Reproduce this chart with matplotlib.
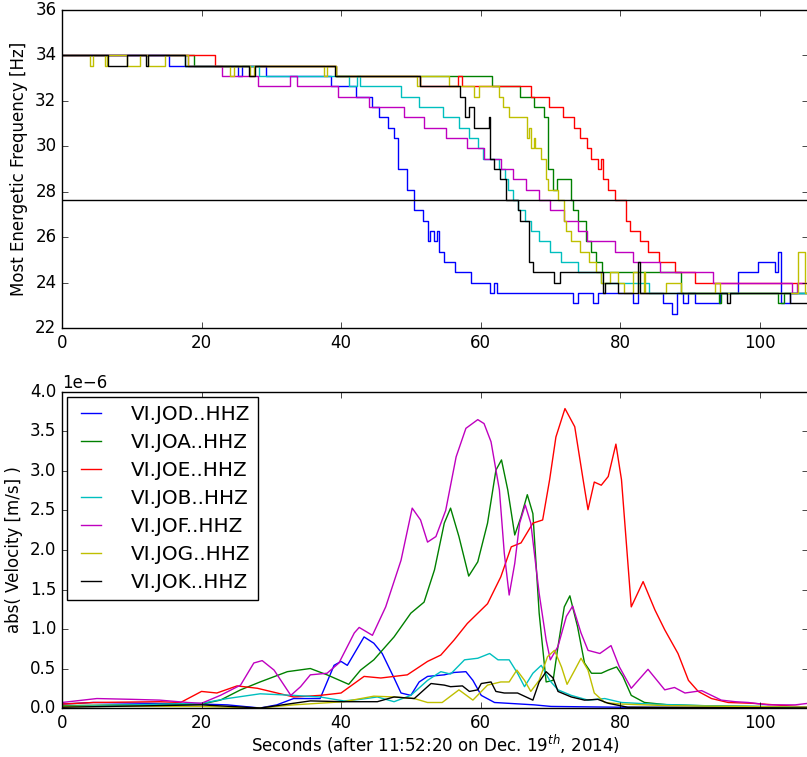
import matplotlib
matplotlib.use("Agg")
import matplotlib.pyplot as plt

plt.style.use("classic")
plt.rcParams["mathtext.fontset"] = "dejavusans"

stations = ["VI.JOD..HHZ", "VI.JOA..HHZ", "VI.JOE..HHZ", "VI.JOB..HHZ",
            "VI.JOF..HHZ", "VI.JOG..HHZ", "VI.JOK..HHZ"]
colors = ["b", "g", "r", "c", "m", "y", "k"]

# top panel: most energetic frequency (step changes), seconds / Hz
jod_t = [0, 15.3, 25.3, 25.8, 29.2, 38.5, 42.1, 44.5, 45.5, 46.7, 47.6, 48.2, 49.5, 50.4,
         51.7, 52.5, 52.8, 53.3, 53.7, 54.1, 54.7, 56.4, 58.6, 61.4, 61.9, 62.4, 73.2, 73.9,
         76.1, 76.8, 81.9, 82.6, 86.2, 87.4, 88.1, 89.0, 89.7, 90.8, 94.3, 96.9, 99.8, 102.2,
         102.7, 103.1, 104.4, 107]
jod_f = [34.00, 33.55, 33.09, 33.55, 33.09, 32.64, 32.18, 31.73, 31.27, 30.82, 30.36, 29.00,
         28.09, 27.18, 26.72, 25.81, 26.27, 25.81, 26.27, 25.36, 24.90, 24.45, 23.99, 23.54,
         23.99, 23.54, 23.08, 23.54, 23.08, 23.54, 23.08, 23.54, 23.08, 22.63, 23.54, 23.08,
         23.54, 23.08, 23.54, 24.45, 24.90, 24.45, 25.36, 23.08, 23.54, 23.54]

joa_t = [0, 18.9, 39.3, 61.7, 65.6, 67.6, 69.1, 69.6, 70.4, 71.0, 72.9, 73.2, 74.0, 75.1,
         75.9, 76.6, 77.4, 88.7, 94.2, 94.5, 102.7, 103.5, 107]
joa_f = [34.00, 33.55, 33.09, 32.64, 32.18, 31.73, 31.27, 29.00, 28.09, 28.54, 27.63, 27.18,
         26.72, 25.81, 25.36, 24.90, 24.45, 23.54, 23.08, 23.54, 23.08, 23.54, 23.54]

joe_t = [0, 22.0, 39.3, 51.3, 56.7, 57.4, 67.3, 69.8, 71.8, 73.4, 74.2, 75.2, 75.9, 76.9,
         77.2, 77.5, 78.3, 79.2, 80.9, 81.4, 82.9, 84.0, 85.6, 87.9, 90.7, 107]
joe_f = [34.00, 33.55, 33.09, 32.64, 33.09, 32.64, 32.18, 31.73, 31.27, 30.82, 30.36, 29.91,
         29.45, 29.00, 29.45, 28.54, 28.09, 27.63, 26.72, 26.27, 25.81, 25.36, 24.90, 24.45,
         23.99, 23.99]

job_t = [0, 17.6, 28.2, 41.1, 42.3, 42.7, 48.6, 51.2, 54.6, 56.9, 58.4, 59.6, 60.4, 62.6,
         63.5, 63.9, 64.6, 65.3, 66.3, 67.2, 68.4, 69.9, 71.6, 74.0, 77.2, 84.2, 107]
job_f = [34.00, 33.55, 33.09, 32.64, 33.09, 32.64, 32.18, 31.73, 31.27, 30.82, 30.36, 29.91,
         29.45, 29.00, 28.54, 28.09, 27.63, 27.18, 26.72, 26.27, 25.81, 25.36, 24.90, 24.45,
         23.99, 23.54, 23.54]

jof_t = [0, 18.1, 22.9, 28.1, 32.7, 33.7, 39.5, 44.0, 49.0, 51.9, 55.0, 58.1, 60.5, 62.9,
         64.6, 66.5, 68.4, 69.9, 72.0, 73.9, 75.3, 79.2, 81.9, 85.7, 93.3, 104.6, 105.3, 107]
jof_f = [34.00, 33.55, 33.09, 32.64, 33.09, 32.64, 32.18, 31.73, 31.27, 30.82, 30.36, 29.91,
         29.45, 29.00, 28.54, 28.09, 27.63, 27.18, 26.72, 26.27, 25.81, 25.36, 24.90, 24.45,
         23.99, 23.54, 23.99, 23.99]

jog_t = [0, 4.0, 4.4, 6.2, 6.5, 9.3, 11.2, 12.3, 14.8, 18.0, 24.1, 24.6, 27.0, 27.5, 37.5,
         38.0, 39.3, 50.9, 51.3, 55.5, 59.0, 59.8, 62.7, 63.2, 64.1, 66.7, 67.0, 67.3, 67.6,
         67.8, 68.7, 69.4, 69.6, 71.1, 71.9, 72.3, 73.0, 74.2, 75.6, 76.6, 77.3, 78.5, 79.7,
         80.5, 81.9, 82.6, 83.4, 83.6, 86.6, 88.7, 93.6, 94.3, 105.5, 106.5, 107]
jog_f = [34.00, 33.55, 34.00, 33.55, 34.00, 33.55, 34.00, 33.55, 34.00, 33.55,
         33.09, 33.55, 33.09, 33.55, 33.09, 33.55, 33.09, 32.64, 33.09, 32.64,
         32.18, 32.64, 32.18, 31.73, 31.27, 30.36, 30.82, 29.91, 30.36, 29.91,
         29.45, 28.54, 28.09, 27.63, 26.72, 26.27, 25.81, 25.36, 24.90, 24.45,
         23.99, 24.45, 23.99, 23.54, 24.45, 23.54, 24.45, 23.54, 23.99, 23.54,
         23.99, 23.54, 25.36, 23.54, 23.54]

jok_t = [0, 6.6, 9.3, 12.1, 12.3, 17.6, 26.8, 27.7, 39.1, 51.3, 57.0, 57.8, 58.3, 59.1,
         61.2, 61.4, 61.9, 62.8, 63.6, 65.3, 65.7, 67.0, 67.5, 70.5, 71.4, 77.6, 77.8, 79.7,
         82.6, 82.8, 95.3, 95.8, 104.4, 107]
jok_f = [34.00, 33.55, 34.00, 33.55, 34.00, 33.55, 33.09, 33.55, 33.09, 32.64, 32.18, 31.27,
         31.73, 30.82, 31.27, 29.45, 29.00, 28.54, 27.63, 27.18, 26.72, 24.90, 24.45, 23.99,
         24.45, 23.54, 23.99, 23.54, 24.90, 23.54, 23.08, 23.54, 23.08, 23.08]

threshold = 27.63

# bottom panel: velocity envelopes, units of 1e-6 m/s
vjod_t = [0, 4.5, 20, 23.7, 28.4, 30.8, 33.2, 37, 39, 40, 40.9, 43.3, 44.7, 45.9, 47.6, 48.6,
          50, 51.2, 52.4, 54.8, 56.2, 57.9, 58.9, 60.1, 62, 67.7, 70.1, 80, 107]
vjod_v = [0.05, 0.07, 0.05, 0.04, 0.0, 0.04, 0.12, 0.12, 0.54, 0.59, 0.54, 0.90, 0.82, 0.69,
          0.38, 0.19, 0.16, 0.33, 0.40, 0.42, 0.45, 0.46, 0.35, 0.16, 0.07, 0.04, 0.02, 0.01, 0.0]

vjoa_t = [0, 9.3, 20, 22.7, 25.6, 28.4, 32.3, 35.6, 38, 41.1, 42.8, 44.7, 47.6, 50, 51.9,
          53.4, 54.8, 55.7, 56.9, 58.3, 59.6, 61, 62.2, 63, 63.9, 64.9, 65.8, 66.7, 67.5, 68.4,
          69.4, 70.4, 71.1, 72, 72.8, 73.9, 74.9, 75.9, 77.3, 78.3, 79.5, 80.4, 81.6, 83.5,
          86.9, 91.7, 107]
vjoa_v = [0.03, 0.04, 0.05, 0.10, 0.23, 0.33, 0.46, 0.50, 0.42, 0.30, 0.48, 0.61, 0.90, 1.20,
          1.34, 1.75, 2.34, 2.53, 2.17, 1.67, 1.85, 2.34, 3.01, 3.14, 2.76, 2.19, 2.42, 2.70,
          2.46, 1.20, 0.33, 0.35, 0.78, 1.28, 1.42, 1.03, 0.57, 0.44, 0.44, 0.48, 0.52, 0.40,
          0.16, 0.07, 0.04, 0.03, 0.01]

vjoe_t = [0, 4.5, 14, 17, 20, 22.2, 25.1, 28, 33.2, 37, 40, 43.3, 45.7, 49.5, 52.4, 54.3,
          56.2, 58.1, 61, 62.9, 64.4, 65.8, 67.5, 68.9, 69.9, 70.8, 72.1, 73.5, 74.7, 75.4,
          76.3, 77.3, 78.3, 79.4, 80.2, 81.6, 83.3, 85, 86.4, 88.3, 89.8, 91.2, 93.1, 95.5,
          98.9, 107]
vjoe_v = [0.05, 0.07, 0.08, 0.07, 0.21, 0.19, 0.28, 0.25, 0.14, 0.16, 0.19, 0.40, 0.38, 0.42,
          0.59, 0.67, 0.86, 1.07, 1.32, 1.66, 2.04, 2.09, 2.34, 2.38, 2.89, 3.43, 3.79, 3.56,
          2.89, 2.51, 2.86, 2.82, 2.93, 3.34, 2.89, 1.28, 1.60, 1.24, 0.99, 0.69, 0.35, 0.21,
          0.12, 0.07, 0.06, 0.01]

vjob_t = [0, 20, 23.7, 28.4, 33.2, 37, 40.4, 42.8, 45.2, 47.6, 50, 52.4, 54.3, 55.7, 57.7,
          59.6, 61.3, 62.5, 64.1, 65.3, 66.3, 67.5, 68.7, 69.9, 71.1, 73, 75.4, 77.8, 80.2,
          84.5, 91.7, 107]
vjob_v = [0.02, 0.06, 0.12, 0.18, 0.16, 0.14, 0.09, 0.11, 0.14, 0.08, 0.16, 0.35, 0.46, 0.43,
          0.61, 0.63, 0.69, 0.61, 0.61, 0.44, 0.27, 0.44, 0.54, 0.35, 0.23, 0.16, 0.10, 0.12,
          0.07, 0.05, 0.03, 0.01]

vjof_t = [0, 5, 10, 14, 18, 20, 22.7, 25.6, 27.5, 28.7, 30.4, 32.8, 34.2, 35.6, 38, 39.7,
          41.9, 42.6, 44.5, 46.4, 48.6, 50.2, 51.4, 52.4, 53.6, 55, 56.5, 57.9, 59.6, 60.5,
          61.5, 62.7, 63.4, 64.1, 64.9, 65.6, 66.4, 67.2, 68.4, 69.4, 70, 71.1, 72.3, 73.2,
          74.4, 75.4, 77.1, 78.7, 79.9, 81.6, 84, 86.4, 87.8, 89.3, 91.7, 94.5, 96.5, 98.4,
          101.2, 105.1, 107]
vjof_v = [0.07, 0.12, 0.11, 0.10, 0.07, 0.06, 0.16, 0.29, 0.57, 0.60, 0.48, 0.16, 0.27, 0.42,
          0.44, 0.57, 0.95, 1.02, 0.92, 1.28, 1.87, 2.53, 2.38, 2.10, 2.17, 2.50, 3.18, 3.54,
          3.65, 3.60, 3.37, 2.76, 1.96, 1.43, 1.83, 2.34, 2.57, 2.34, 1.45, 0.86, 0.61, 0.78,
          1.16, 1.29, 0.95, 0.73, 0.69, 0.79, 0.52, 0.25, 0.49, 0.23, 0.26, 0.19, 0.22, 0.10,
          0.08, 0.07, 0.04, 0.04, 0.06]

vjog_t = [0, 20, 28.4, 33.2, 40.4, 44.7, 47.6, 50.5, 52.4, 54.5, 56.9, 58.9, 61, 62.9, 64.1,
          65.2, 66.3, 67.2, 68.4, 69.6, 70.6, 71.6, 72.4, 73.5, 74.4, 75.4, 76.3, 77.8, 80.2,
          86.9, 107]
vjog_v = [0.02, 0.02, 0.0, 0.04, 0.08, 0.15, 0.14, 0.12, 0.07, 0.07, 0.23, 0.10, 0.29, 0.33,
          0.33, 0.48, 0.35, 0.21, 0.35, 0.65, 0.73, 0.52, 0.30, 0.48, 0.63, 0.48, 0.19, 0.07,
          0.05, 0.03, 0.01]

vjok_t = [0, 20, 28.4, 33.2, 35.6, 40.4, 45.2, 47.6, 50.5, 52.9, 54.8, 55.7, 57.4, 58.4, 59.6,
          60.1, 61.5, 62.2, 63.4, 65.3, 67.5, 68.4, 69.4, 70.4, 71.1, 73, 74.9, 76.8, 78.3,
          81.1, 107]
vjok_v = [0.01, 0.04, 0.0, 0.06, 0.09, 0.08, 0.08, 0.14, 0.12, 0.31, 0.29, 0.27, 0.28, 0.21,
          0.23, 0.31, 0.33, 0.21, 0.19, 0.19, 0.10, 0.33, 0.46, 0.38, 0.21, 0.14, 0.10, 0.11,
          0.06, 0.01, 0.0]

freq_series = [(jod_t, jod_f), (joa_t, joa_f), (joe_t, joe_f), (job_t, job_f),
               (jof_t, jof_f), (jog_t, jog_f), (jok_t, jok_f)]
vel_series = [(vjod_t, vjod_v), (vjoa_t, vjoa_v), (vjoe_t, vjoe_v), (vjob_t, vjob_v),
              (vjof_t, vjof_v), (vjog_t, vjog_v), (vjok_t, vjok_v)]

fig = plt.figure(figsize=(8.07, 7.57), dpi=100, facecolor="white")

# frequency panel
ax1 = fig.add_axes([0.0768, 0.5667, 0.925, 0.4201])
for (t, f), c in zip(freq_series, colors):
    ax1.step(t, f, where="post", color=c, lw=1.0)
ax1.axhline(threshold, color="k", lw=1.0)
ax1.set_xlim(0, 107)
ax1.set_ylim(22, 36)
ax1.set_ylabel("Most Energetic Frequency [Hz]", fontsize=12)
ax1.tick_params(labelsize=12)

# velocity panel
ax2 = fig.add_axes([0.0768, 0.0647, 0.925, 0.4175])
for (t, v), c, name in zip(vel_series, colors, stations):
    ax2.plot(t, [x * 1e-6 for x in v], color=c, lw=1.0, label=name)
ax2.set_xlim(0, 107)
ax2.set_ylim(0, 4e-6)
ax2.ticklabel_format(axis="y", style="sci", scilimits=(-3, 3))
ax2.yaxis.get_offset_text().set_fontsize(12)
ax2.set_ylabel("abs( Velocity [m/s] )", fontsize=12)
ax2.set_xlabel("Seconds (after 11:52:20 on Dec. 19$^{th}$, 2014)", fontsize=12, labelpad=1)
ax2.tick_params(labelsize=12)
ax2.legend(loc="upper left", fontsize=14.4, handlelength=1.6, handletextpad=1.2,
           labelspacing=0.45, borderaxespad=0.25, borderpad=0.4, numpoints=2)

fig.savefig("out.png", dpi=100, facecolor="white")
